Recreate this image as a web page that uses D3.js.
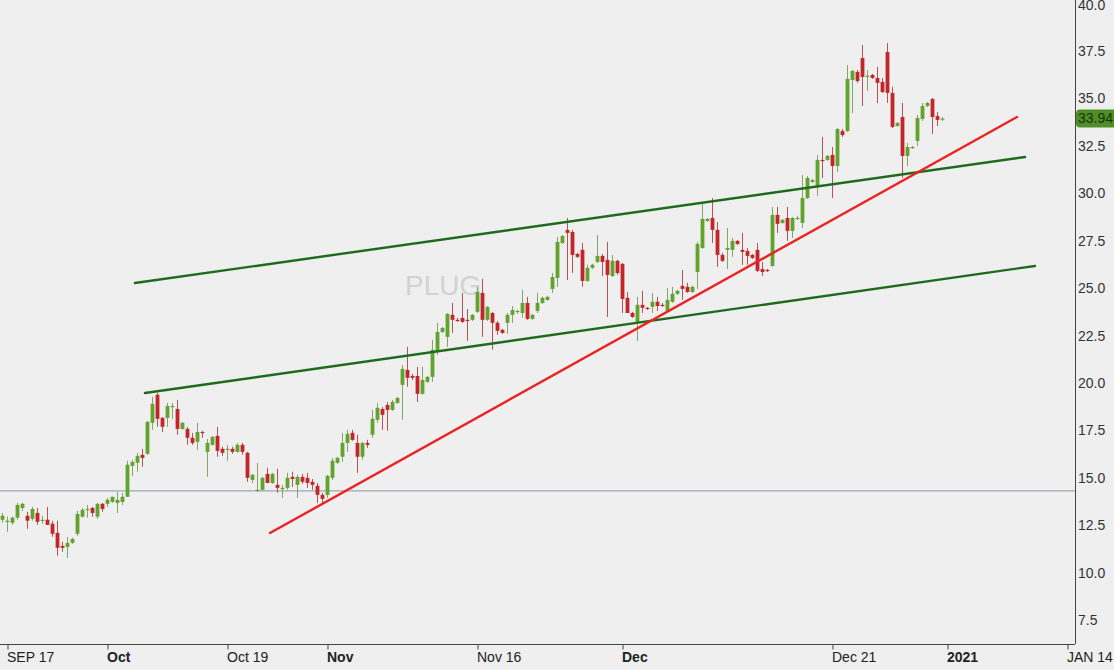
<!DOCTYPE html>
<html>
<head>
<meta charset="utf-8">
<script src="https://cdn.jsdelivr.net/npm/d3@7"></script>
<style>
html, body { margin: 0; padding: 0; background: #efefef; overflow: hidden; }
svg { display: block; font-family: "Liberation Sans", Arial, sans-serif; }
</style>
</head>
<body>
<svg width="1114" height="670"></svg>
<script>
// PLUG candles, one entry per bar
const openP = [
  12.79, 12.70, 12.63, 12.90, 13.41, 13.00, 12.84, 13.15, 12.77, 12.79,
  12.58, 12.10, 11.41, 11.36, 11.57, 12.05, 12.95, 13.34, 13.41, 12.95,
  13.63, 13.63, 13.73, 13.68, 13.73, 14.00, 15.63, 15.79, 16.21, 16.27,
  17.90, 19.38, 18.16, 18.16, 18.77, 18.63, 17.58, 17.58, 17.11, 16.90,
  17.42, 16.37, 16.74, 17.21, 16.53, 16.51, 16.53, 16.37, 16.74, 16.32,
  14.89, 14.35, 14.37, 15.21, 14.73, 14.63, 14.45, 14.47, 15.05, 14.63,
  15.05, 15.00, 14.79, 14.58, 14.10, 14.10, 15.00, 15.79, 16.11, 16.84,
  17.37, 16.84, 16.11, 16.84, 17.27, 18.06, 18.63, 18.84, 18.58, 18.95,
  19.90, 20.69, 20.37, 20.37, 19.43, 20.06, 20.32, 21.69, 22.69, 22.43,
  23.59, 23.33, 23.43, 23.33, 23.33, 23.75, 24.75, 23.33, 23.69, 23.17,
  22.80, 23.17, 23.59, 23.75, 23.69, 24.22, 23.38, 23.80, 24.22, 24.38,
  24.96, 25.54, 27.38, 28.07, 27.96, 26.80, 27.02, 25.38, 26.07, 26.38,
  26.70, 26.49, 25.64, 26.44, 26.28, 24.49, 23.69, 23.22, 24.12, 23.96,
  24.01, 24.28, 24.12, 23.80, 24.28, 24.70, 25.12, 25.07, 24.80, 25.85,
  27.12, 28.54, 28.70, 28.07, 26.75, 27.02, 27.02, 27.49, 27.02, 26.96,
  26.75, 27.02, 26.01, 25.96, 26.17, 28.86, 28.44, 28.70, 28.02, 28.68,
  28.44, 29.75, 30.60, 30.39, 31.76, 31.76, 32.02, 31.44, 33.28, 33.28,
  35.97, 36.40, 37.13, 36.18, 36.24, 36.08, 35.87, 37.45, 35.29, 33.55,
  34.02, 31.97, 32.39, 32.76, 33.92, 34.60, 34.97, 34.07, 33.92
];
const highP = [
  13.15, 12.95, 12.95, 13.68, 13.68, 13.21, 13.47, 13.41, 13.00, 13.47,
  12.74, 12.74, 11.63, 11.89, 11.84, 13.26, 13.41, 13.57, 13.47, 13.68,
  13.68, 13.94, 14.00, 14.26, 14.21, 15.90, 15.95, 16.32, 16.53, 18.00,
  19.27, 19.48, 18.21, 18.95, 18.95, 19.11, 17.95, 17.69, 17.37, 17.90,
  17.48, 17.05, 17.21, 17.69, 16.64, 16.74, 16.64, 16.84, 16.84, 16.37,
  15.21, 15.79, 15.05, 15.53, 15.26, 15.48, 14.63, 15.26, 15.32, 15.16,
  15.21, 15.26, 14.94, 14.73, 14.21, 15.16, 16.05, 16.11, 17.37, 17.53,
  17.53, 17.27, 16.90, 17.00, 18.58, 18.95, 18.74, 19.00, 19.11, 19.27,
  20.95, 21.90, 20.48, 20.85, 20.85, 20.37, 22.27, 23.17, 22.96, 23.69,
  24.22, 23.43, 24.75, 23.90, 23.64, 25.07, 25.49, 24.06, 23.75, 23.27,
  22.85, 23.69, 24.06, 23.85, 24.91, 24.54, 23.64, 24.75, 24.54, 24.59,
  25.80, 27.70, 27.80, 28.70, 28.07, 26.86, 27.38, 26.23, 26.28, 27.80,
  26.80, 27.44, 26.75, 26.49, 26.33, 24.80, 23.75, 24.54, 24.86, 24.01,
  24.75, 24.54, 24.22, 25.01, 25.07, 24.91, 25.96, 25.28, 25.12, 27.44,
  29.44, 28.70, 29.75, 28.49, 26.86, 28.17, 27.65, 27.54, 27.91, 27.12,
  26.80, 27.38, 26.38, 26.01, 29.28, 29.28, 28.65, 29.28, 28.75, 28.81,
  30.97, 30.91, 30.76, 32.02, 32.97, 32.02, 32.44, 33.44, 33.39, 36.76,
  36.50, 36.50, 37.82, 36.50, 36.29, 36.66, 36.08, 37.92, 35.61, 33.76,
  34.76, 32.65, 32.50, 34.13, 34.76, 34.81, 35.03, 34.29, 34.02
];
const lowP = [
  12.63, 12.16, 12.52, 12.79, 13.26, 12.31, 12.74, 12.52, 12.58, 12.52,
  11.89, 10.89, 11.10, 10.78, 11.52, 11.94, 12.90, 12.90, 12.95, 12.84,
  13.21, 13.47, 13.68, 13.15, 13.57, 14.00, 15.10, 15.32, 15.58, 16.21,
  17.53, 17.69, 17.42, 17.69, 18.11, 17.27, 17.53, 16.74, 16.74, 16.48,
  17.11, 15.05, 16.69, 16.11, 16.16, 15.90, 16.27, 16.32, 16.21, 14.79,
  14.73, 14.26, 14.31, 14.73, 14.68, 14.21, 13.94, 14.37, 14.52, 13.94,
  14.68, 14.47, 14.37, 13.68, 13.68, 13.94, 14.89, 15.74, 15.84, 16.37,
  16.95, 15.26, 15.95, 16.58, 17.11, 17.90, 17.53, 17.48, 18.53, 18.90,
  18.06, 19.80, 20.16, 19.00, 19.38, 20.00, 20.06, 21.48, 22.64, 21.90,
  22.64, 23.22, 23.17, 22.22, 23.27, 23.69, 22.43, 23.27, 21.75, 22.54,
  22.59, 22.59, 23.17, 23.64, 23.43, 23.33, 23.33, 23.69, 24.17, 24.33,
  24.75, 25.07, 27.33, 25.43, 25.80, 26.59, 25.07, 25.33, 26.01, 26.33,
  25.64, 23.48, 25.59, 25.70, 23.69, 23.69, 23.43, 22.22, 23.69, 23.85,
  23.69, 23.80, 24.01, 23.75, 24.22, 24.64, 24.38, 24.75, 24.75, 24.96,
  27.07, 28.49, 27.38, 26.12, 26.38, 26.01, 26.65, 27.28, 26.23, 26.23,
  26.54, 25.85, 25.64, 25.85, 26.12, 27.91, 28.39, 27.49, 27.65, 28.60,
  28.17, 29.70, 30.55, 29.86, 30.81, 31.71, 29.75, 31.12, 32.97, 33.23,
  34.23, 35.82, 34.60, 35.40, 36.03, 34.76, 35.29, 34.76, 33.44, 33.50,
  30.81, 31.44, 32.34, 32.50, 33.81, 34.55, 33.13, 33.55, 33.81
];
const closeP = [
  13.00, 12.74, 12.90, 13.57, 13.63, 12.74, 13.36, 12.68, 12.79, 12.52,
  12.05, 11.31, 11.31, 11.57, 11.78, 13.10, 13.31, 13.36, 13.15, 13.63,
  13.36, 13.84, 14.00, 13.84, 14.00, 15.69, 15.84, 16.16, 16.05, 17.95,
  18.90, 18.11, 17.69, 18.79, 18.79, 17.58, 17.90, 17.11, 16.84, 17.42,
  17.37, 16.84, 17.16, 16.42, 16.32, 16.53, 16.37, 16.74, 16.37, 15.00,
  15.16, 14.37, 15.00, 14.73, 15.21, 14.47, 14.47, 15.00, 14.94, 15.05,
  14.79, 14.73, 14.63, 14.10, 13.89, 15.10, 15.90, 16.05, 16.84, 17.32,
  17.00, 16.11, 16.84, 16.74, 18.11, 18.69, 18.32, 18.58, 19.00, 19.21,
  20.74, 20.27, 20.27, 19.43, 20.16, 20.32, 21.75, 22.69, 22.90, 23.64,
  23.33, 23.27, 23.22, 23.27, 23.59, 24.80, 23.33, 24.01, 23.17, 22.75,
  22.64, 23.59, 23.85, 23.80, 24.22, 23.38, 23.59, 24.22, 24.49, 24.54,
  25.59, 27.44, 27.75, 27.91, 26.75, 26.65, 25.38, 26.07, 26.23, 26.70,
  26.38, 25.70, 26.44, 25.80, 24.43, 23.69, 23.48, 24.12, 23.96, 23.90,
  24.28, 24.06, 24.06, 24.38, 24.70, 24.86, 24.96, 24.80, 25.07, 27.33,
  28.65, 28.65, 28.07, 26.75, 26.44, 27.12, 27.49, 27.33, 26.91, 26.70,
  26.59, 25.91, 25.85, 25.91, 28.86, 28.39, 28.60, 28.02, 28.70, 28.70,
  29.75, 30.81, 30.70, 31.76, 31.71, 31.97, 31.44, 33.39, 33.07, 36.03,
  36.45, 35.92, 36.13, 36.20, 36.08, 35.82, 35.34, 35.29, 33.50, 33.71,
  31.97, 32.44, 32.44, 33.97, 34.60, 34.76, 34.02, 33.87, 33.94
];

// x axis ticks (bar index) and labels
const tickIndex = [1, 21, 45, 65, 95, 124, 166, 189, 213];
const tickLabels = ['SEP 17', 'Oct', 'Oct 19', 'Nov', 'Nov 16', 'Dec', 'Dec 21', '2021', 'JAN 14'];
const tickBold = [false, true, false, true, false, true, false, true, false];

// y axis ticks
const priceTicks = [7.5, 10, 12.5, 15, 17.5, 20, 22.5, 25, 27.5, 30, 32.5, 35, 37.5, 40];

// drawn trend lines: [startIndex, startPrice, endIndex, endPrice]
const upperChannel = [26.5, 25.27, 204.5, 31.91];
const lowerChannel = [28.5, 19.47, 206.5, 26.17];
const supportLine = [53.5, 12.09, 202.9, 34.02];
const levelLine = 14.31;
const lastPrice = 33.94;
const symbol = 'PLUG';

const svg = d3.select('svg');
const plotRight = 1075;
const plotBottom = 644;

const bars = openP.map((o, i) => ({
  i: i, open: o, high: highP[i], low: lowP[i], close: closeP[i]
}));

const xScale = d3.scaleLinear()
  .domain([0, 214.5])
  .range([2.5, plotRight]);
const yScale = d3.scaleLinear()
  .domain([7.5, 40])
  .range([620.1, 3.6]);

// watermark
svg.append('text')
  .attr('x', 405)
  .attr('y', 295)
  .attr('font-size', 28)
  .attr('fill', '#d2d2d2')
  .text(symbol);

// horizontal level
svg.append('line')
  .attr('x1', 0).attr('x2', plotRight)
  .attr('y1', yScale(levelLine)).attr('y2', yScale(levelLine))
  .attr('stroke', '#9aa8b8')
  .attr('stroke-width', 1.2);

// candles
const upCol = '#62a32e', downCol = '#c3262a';
const upWick = '#84a46a', downWick = '#b25454';
const candle = svg.append('g').selectAll('g')
  .data(bars)
  .join('g');

candle.append('line')
  .attr('x1', d => xScale(d.i)).attr('x2', d => xScale(d.i))
  .attr('y1', d => yScale(d.high)).attr('y2', d => yScale(d.low))
  .attr('stroke', d => d.close >= d.open ? upWick : downWick)
  .attr('stroke-width', 1);

candle.append('rect')
  .attr('x', d => xScale(d.i) - 1.9)
  .attr('width', 3.8)
  .attr('y', d => yScale(Math.max(d.open, d.close)))
  .attr('height', d => Math.max(1.2, yScale(Math.min(d.open, d.close)) - yScale(Math.max(d.open, d.close))))
  .attr('fill', d => d.close >= d.open ? upCol : downCol);

// trend lines
function trend(seg, colour) {
  svg.append('line')
    .attr('x1', xScale(seg[0])).attr('y1', yScale(seg[1]))
    .attr('x2', xScale(seg[2])).attr('y2', yScale(seg[3]))
    .attr('stroke', colour)
    .attr('stroke-width', 2.4)
    .attr('stroke-linecap', 'round');
}
trend(upperChannel, '#1f6b1d');
trend(lowerChannel, '#1f6b1d');
trend(supportLine, '#ec2222');

// right price axis
const yAxis = svg.append('g')
  .attr('transform', `translate(${plotRight},0)`)
  .call(d3.axisRight(yScale)
    .tickValues(priceTicks)
    .tickFormat(d3.format('.1f'))
    .tickSize(0)
    .tickPadding(3));
yAxis.select('.domain').remove();
yAxis.selectAll('text')
  .attr('font-size', 14)
  .attr('font-family', '"Liberation Sans", Arial, sans-serif')
  .attr('fill', '#333');
// top label sits at the edge, as in the source
yAxis.selectAll('.tick')
  .filter(d => d === 40)
  .select('text')
  .attr('dy', '0.45em');

svg.append('line')
  .attr('x1', plotRight + 0.5).attr('x2', plotRight + 0.5)
  .attr('y1', 0).attr('y2', plotBottom)
  .attr('stroke', '#444').attr('stroke-width', 1);

// last price tag
const tagY = yScale(lastPrice);
svg.append('rect')
  .attr('x', plotRight + 1).attr('y', tagY - 9)
  .attr('width', 42).attr('height', 18)
  .attr('rx', 4)
  .attr('fill', '#4f8f26');
svg.append('text')
  .attr('x', plotRight + 3).attr('y', tagY)
  .attr('dy', '0.35em')
  .attr('font-size', 14)
  .attr('fill', '#14330a')
  .text(lastPrice.toFixed(2));

// bottom date axis
const xAxis = svg.append('g')
  .attr('transform', `translate(0,${plotBottom + 0.5})`)
  .call(d3.axisBottom(xScale)
    .tickValues(tickIndex)
    .tickFormat((d, i) => tickLabels[i])
    .tickSize(5)
    .tickSizeOuter(0));
xAxis.select('.domain')
  .attr('d', `M0,0H${plotRight}`)
  .attr('stroke', '#444');
xAxis.selectAll('.tick line').attr('stroke', '#444');
xAxis.selectAll('text')
  .attr('text-anchor', 'start')
  .attr('x', -1)
  .attr('y', 8)
  .attr('font-size', 14)
  .attr('font-family', '"Liberation Sans", Arial, sans-serif')
  .attr('fill', '#222')
  .attr('font-weight', (d, i) => tickBold[i] ? 'bold' : 'normal');
</script>
</body>
</html>
